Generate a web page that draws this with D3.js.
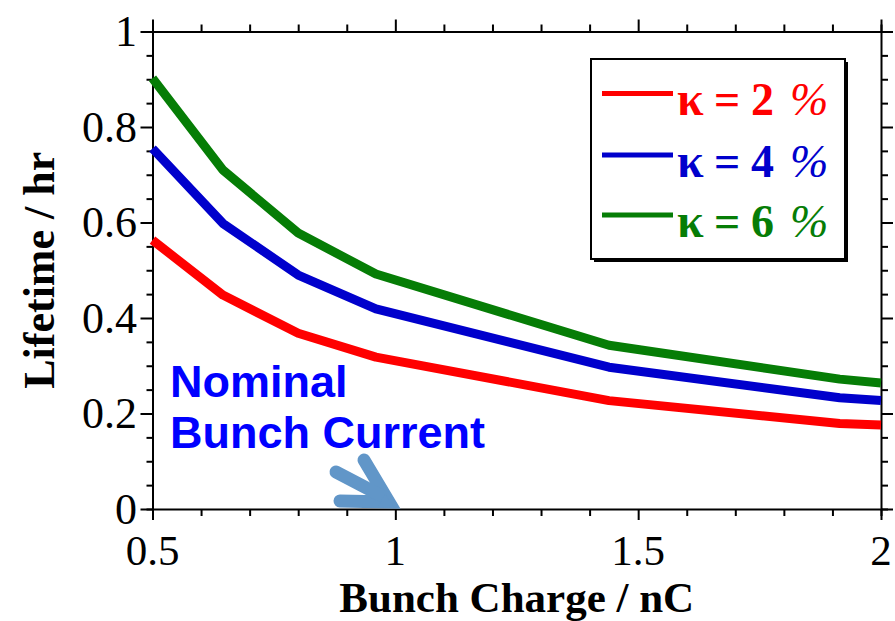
<!DOCTYPE html>
<html><head><meta charset="utf-8">
<script src="https://cdn.jsdelivr.net/npm/d3@7"></script>
<style>body{margin:0;background:#fff}svg{display:block}</style>
</head><body>
<svg id="c" width="895" height="621"></svg>
<script>
const charge = [0.5, 0.645, 0.80, 0.96, 1.44, 1.915, 2.0];
const kappa2 = [0.563, 0.448, 0.368, 0.318, 0.227, 0.179, 0.176];
const kappa4 = [0.755, 0.598, 0.490, 0.419, 0.297, 0.233, 0.227];
const kappa6 = [0.902, 0.710, 0.578, 0.492, 0.343, 0.272, 0.264];
const seriesNames = ["2", "4", "6"];
const seriesColors = ["#ff0000", "#0000cc", "#067d06"];
const xTicks = [0.5, 1, 1.5, 2];
const yTicks = [0, 0.2, 0.4, 0.6, 0.8, 1];
const xTitle = "Bunch Charge / nC";
const yTitle = "Lifetime / hr";
const noteLines = ["Nominal", "Bunch Current"];

const svg = d3.select("#c");
const x = d3.scaleLinear().domain([0.5, 2]).range([152.5, 881]);
const y = d3.scaleLinear().domain([0, 1]).range([509, 31.5]);
const serif = "'Liberation Serif','Times New Roman',serif";

// frame
const g = svg.append("g");
const xMinor = d3.range(0.5, 2.0001, 0.1);
const yMinor = d3.range(0, 1.0001, 0.05);
function isMajor(v, arr){ return arr.some(t => Math.abs(t - v) < 1e-6); }

const axB = d3.axisBottom(x).tickValues(xMinor).tickSizeOuter(0).tickFormat("").tickSize(7);
const axT = d3.axisTop(x).tickValues(xMinor).tickSizeOuter(0).tickFormat("").tickSize(7);
const axL = d3.axisLeft(y).tickValues(yMinor).tickSizeOuter(0).tickFormat("").tickSize(6);
const axR = d3.axisRight(y).tickValues(yMinor).tickSizeOuter(0).tickFormat("").tickSize(7);

function styleAxis(sel, majors, big, dir){
  sel.select(".domain").attr("stroke", "#000").attr("stroke-width", 2);
  sel.selectAll(".tick line").attr("stroke", "#000").attr("stroke-width", 2)
    .each(function(d){
      if (isMajor(d, majors)) {
        const l = d3.select(this);
        l.attr(dir, (+l.attr(dir) < 0 ? -big : big));
      }
    });
}
styleAxis(g.append("g").attr("transform", "translate(0,509)").call(axB), xTicks, 11, "y2");
styleAxis(g.append("g").attr("transform", "translate(0,31.5)").call(axT), xTicks, 12, "y2");
styleAxis(g.append("g").attr("transform", "translate(152.5,0)").call(axL), yTicks, 12, "x2");
styleAxis(g.append("g").attr("transform", "translate(881,0)").call(axR), yTicks, 12, "x2");

// tick labels
svg.append("g").selectAll("text").data(xTicks).join("text")
  .attr("x", d => x(d)).attr("y", 565).attr("text-anchor", "middle")
  .attr("font-family", serif).attr("font-size", 43).text(d => d3.format("")(d));
svg.append("g").selectAll("text").data(yTicks).join("text")
  .attr("x", 137).attr("y", d => y(d)).attr("dy", "0.34em").attr("text-anchor", "end")
  .attr("font-family", serif).attr("font-size", 44).text(d => d3.format("")(d));

// axis titles
svg.append("text").attr("x", (x(0.5) + x(2)) / 2).attr("y", 612).attr("text-anchor", "middle")
  .attr("font-family", serif).attr("font-weight", "bold").attr("font-size", 43).text(xTitle);
svg.append("text").attr("transform", `translate(54,${(y(0) + y(1)) / 2}) rotate(-90)`)
  .attr("text-anchor", "middle").attr("font-family", serif).attr("font-weight", "bold")
  .attr("font-size", 44).text(yTitle);

// lines
const allSeries = [kappa2, kappa4, kappa6];
const line = d3.line().x((d, i) => x(charge[i])).y(d => y(d));
svg.append("g").selectAll("path").data(allSeries).join("path")
  .attr("d", d => line(d)).attr("fill", "none")
  .attr("stroke", (d, i) => seriesColors[i]).attr("stroke-width", 9)
  .attr("stroke-linejoin", "round").attr("stroke-linecap", "butt");

// legend
const lg = svg.append("g");
lg.append("rect").attr("x", 594).attr("y", 62).attr("width", 254).attr("height", 200).attr("fill", "#000");
lg.append("rect").attr("x", 591).attr("y", 59).attr("width", 254).attr("height", 200)
  .attr("fill", "#fff").attr("stroke", "#000").attr("stroke-width", 2);
const legY = [93.5, 155, 215];
const legBase = [115, 176.5, 236.5];
seriesNames.forEach((s, i) => {
  lg.append("line").attr("x1", 602).attr("x2", 673).attr("y1", legY[i]).attr("y2", legY[i])
    .attr("stroke", seriesColors[i]).attr("stroke-width", 5);
  const t = lg.append("text").attr("y", legBase[i]).attr("font-family", serif)
    .attr("font-weight", "bold").attr("font-size", 46).attr("fill", seriesColors[i]);
  t.append("tspan").attr("x", 677).attr("font-size", 48).text("κ");
  t.append("tspan").attr("x", 714).text("=");
  t.append("tspan").attr("x", 751).text(s);
  t.append("tspan").attr("x", 790).attr("font-style", "italic").attr("font-weight", "normal").text("%");
});

// annotation
const sans = "'Liberation Sans',Arial,sans-serif";
svg.append("text").attr("font-family", sans).attr("font-weight", "bold").attr("font-size", 45)
  .attr("fill", "#0000ff").selectAll("tspan").data(noteLines).join("tspan")
  .attr("x", 170).attr("y", (d, i) => 397 + i * 51).text(d => d);

// arrow
const ag = svg.append("g").attr("stroke", "#6196c8").attr("fill", "none")
  .attr("stroke-linecap", "round").attr("stroke-linejoin", "miter");
ag.append("path").attr("d", "M364,460 L389,502 L340,501").attr("stroke-width", 13).attr("stroke-miterlimit", 10);
ag.append("path").attr("d", "M336,472 L380,495").attr("stroke-width", 13);
ag.append("path").attr("d", "M385,494 L395,508 L378,507 Z").attr("fill", "#6196c8").attr("stroke", "none");
</script>
</body></html>
